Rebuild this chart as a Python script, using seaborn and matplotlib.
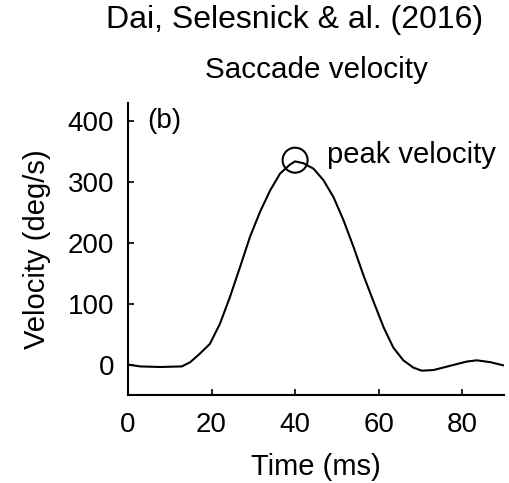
import matplotlib
matplotlib.use("Agg")
import matplotlib.pyplot as plt
import seaborn as sns
import pandas as pd

# Data
time_ms = [0, 2.9, 7.7, 12.9, 14.9, 17.2, 19.6, 22.0, 24.4, 26.8, 29.2, 31.6, 34.0,
           36.4, 38.8, 40.0, 42.0, 44.4, 46.8, 49.2, 51.6, 54.0, 56.4, 58.8, 61.2,
           63.5, 65.9, 68.3, 70.3, 73.1, 77.1, 81.1, 83.5, 86.7, 90.3]
velocity = [0, -3, -4, -3, 4, 18, 34, 67, 111, 160, 210, 251, 286,
            314, 329, 334, 331, 322, 303, 275, 237, 193, 146, 103, 61,
            28, 7, -5, -10, -9, -2, 5, 7, 4, -2]
peak_time = [40.0]
peak_vel = [336]
x_ticks = [0, 20, 40, 60, 80]
y_ticks = [0, 100, 200, 300, 400]

sns.set_theme(style="ticks")
plt.rcParams['font.family'] = ['Liberation Sans', 'DejaVu Sans']
plt.rcParams['text.color'] = 'black'
plt.rcParams['axes.labelcolor'] = 'black'

fig = plt.figure(figsize=(5.10, 4.83), dpi=100)
ax = fig.add_axes([128 / 510, 1 - 395 / 483, (504 - 128) / 510, (395 - 103) / 483])

df = pd.DataFrame({"t": time_ms, "v": velocity})
sns.lineplot(data=df, x="t", y="v", ax=ax, color="black", linewidth=1.5)
sns.scatterplot(x=peak_time, y=peak_vel, ax=ax, s=18 ** 2, marker="o",
                facecolor="none", edgecolor="black", linewidth=1.5, zorder=5)

ax.set_xlim(0, 90)
ax.set_ylim(-50, 430)
ax.set_xticks(x_ticks)
ax.set_yticks(y_ticks)
ax.tick_params(axis="both", direction="in", length=4, width=1.2, colors="black",
               labelcolor="black", labelsize=20)
ax.tick_params(axis="y", pad=10)
ax.tick_params(axis="x", pad=12)
for s in ["top", "right"]:
    ax.spines[s].set_visible(False)
for s in ["left", "bottom"]:
    ax.spines[s].set_linewidth(1.5)
    ax.spines[s].set_color("black")

ax.set_xlabel("Time (ms)", fontsize=21, labelpad=11, color="black")
ax.set_ylabel("Velocity (deg/s)", fontsize=21, labelpad=12, color="black")
ax.set_title("Saccade velocity", fontsize=21.3, pad=18, color="black")

ax.text(4.5, 400, "(b)", fontsize=20, ha="left", va="center", color="black")
ax.text(47.7, 331, "peak velocity", fontsize=21, ha="left", va="baseline",
        color="black")

fig.text(295 / 510, 1 - 20 / 483, "Dai, Selesnick & al. (2016)", fontsize=23,
         ha="center", va="center", color="black")

fig.savefig("out.png", dpi=100)
